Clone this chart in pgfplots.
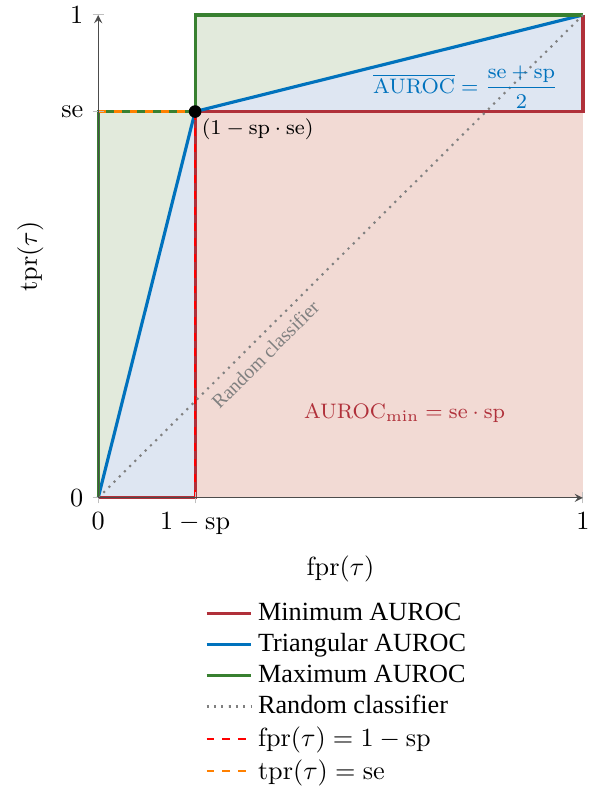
\documentclass[border=0pt]{standalone}
\usepackage[no-math]{fontspec}
\setmainfont{Liberation Serif}
\usepackage{pgfplots}
\pgfplotsset{compat=1.18}
\usepackage{amsmath}
\definecolor{minred}{RGB}{176,48,58}
\definecolor{triblue}{RGB}{0,114,189}
\definecolor{maxgreen}{RGB}{56,128,48}
\definecolor{gfill}{RGB}{226,234,220}
\definecolor{bfill}{RGB}{222,230,242}
\definecolor{rfill}{RGB}{242,218,212}
\definecolor{dorange}{RGB}{255,128,0}
\begin{document}
\begin{tikzpicture}
\begin{axis}[
  scale only axis,
  width=6.5cm, height=6.475cm,
  xmin=0, xmax=1, ymin=0, ymax=1,
  axis lines=left,
  axis on top,
  axis line style={black!70},
  tick align=center,
  xtick={0,0.2,1}, xticklabels={$0$,$1-\mathrm{sp}$,$1$},
  ytick={0,0.8,1}, yticklabels={$0$,$\mathrm{se}$,$1$},
  major tick style={gray!50, thin},
  xlabel={$\mathrm{fpr}(\tau)$},
  ylabel={$\mathrm{tpr}(\tau)$},
  x label style={at={(axis description cs:0.5,-0.147)}, anchor=center},
  y label style={at={(axis description cs:-0.14,0.5)}, anchor=center},
  clip=false,
  legend style={draw=none, fill=none, at={(0.495,-0.195)}, anchor=north, row sep=-0.5pt},
  legend cell align=left,
]
% fills
\addplot[fill=gfill, draw=none, forget plot] coordinates {(0,0) (0,0.8) (0.2,0.8) (0,0)};
\addplot[fill=gfill, draw=none, forget plot] coordinates {(0.2,0.8) (0.2,1) (1,1) (0.2,0.8)};
\addplot[fill=bfill, draw=none, forget plot] coordinates {(0,0) (0.2,0.8) (0.2,0) (0,0)};
\addplot[fill=bfill, draw=none, forget plot] coordinates {(0.2,0.8) (1,1) (1,0.8) (0.2,0.8)};
\addplot[fill=rfill, draw=none, forget plot] coordinates {(0.2,0) (0.2,0.8) (1,0.8) (1,0) (0.2,0)};
% lines
\addplot[minred, line width=1.2pt] coordinates {(0,0) (0.2,0) (0.2,0.8) (1,0.8) (1,1)};
\addlegendentry{Minimum AUROC}
\addplot[triblue, line width=1.2pt] coordinates {(0,0) (0.2,0.8) (1,1)};
\addlegendentry{Triangular AUROC}
\addplot[maxgreen, line width=1.2pt] coordinates {(0,0) (0,0.8) (0.2,0.8) (0.2,1) (1,1)};
\addlegendentry{Maximum AUROC}
\addplot[gray, dotted, thick] coordinates {(0,0) (1,1)};
\addlegendentry{Random classifier}
\addplot[red, dashed, thick] coordinates {(0.2,0) (0.2,0.8)};
\addlegendentry{$\mathrm{fpr}(\tau)=1-\mathrm{sp}$}
\addplot[dorange, dashed, thick] coordinates {(0,0.8) (0.2,0.8)};
\addlegendentry{$\mathrm{tpr}(\tau)=\mathrm{se}$}
\addplot[only marks, mark=*, mark size=2.2pt, black, forget plot] coordinates {(0.2,0.8)};
% annotations
\node[font=\footnotesize] at (axis cs:0.329,0.763) {$(1-\mathrm{sp}\cdot\mathrm{se})$};
\node[font=\fontsize{7.5}{9}\selectfont, gray, rotate=45, anchor=north] at (axis cs:0.321,0.321) {Random classifier};
\node[font=\footnotesize, minred] at (axis cs:0.632,0.176) {$\mathrm{AUROC}_{\mathrm{min}}=\mathrm{se}\cdot\mathrm{sp}$};
\node[font=\footnotesize, triblue] at (axis cs:0.758,0.85) {$\overline{\mathrm{AUROC}}=\dfrac{\mathrm{se}+\mathrm{sp}}{2}$};
\coordinate (bbsw) at (rel axis cs:-0.2025,-0.607);
\coordinate (bbne) at (rel axis cs:1.031,1.031);
\end{axis}
\pgfresetboundingbox
\useasboundingbox (bbsw) rectangle (bbne);
\end{tikzpicture}
\end{document}
